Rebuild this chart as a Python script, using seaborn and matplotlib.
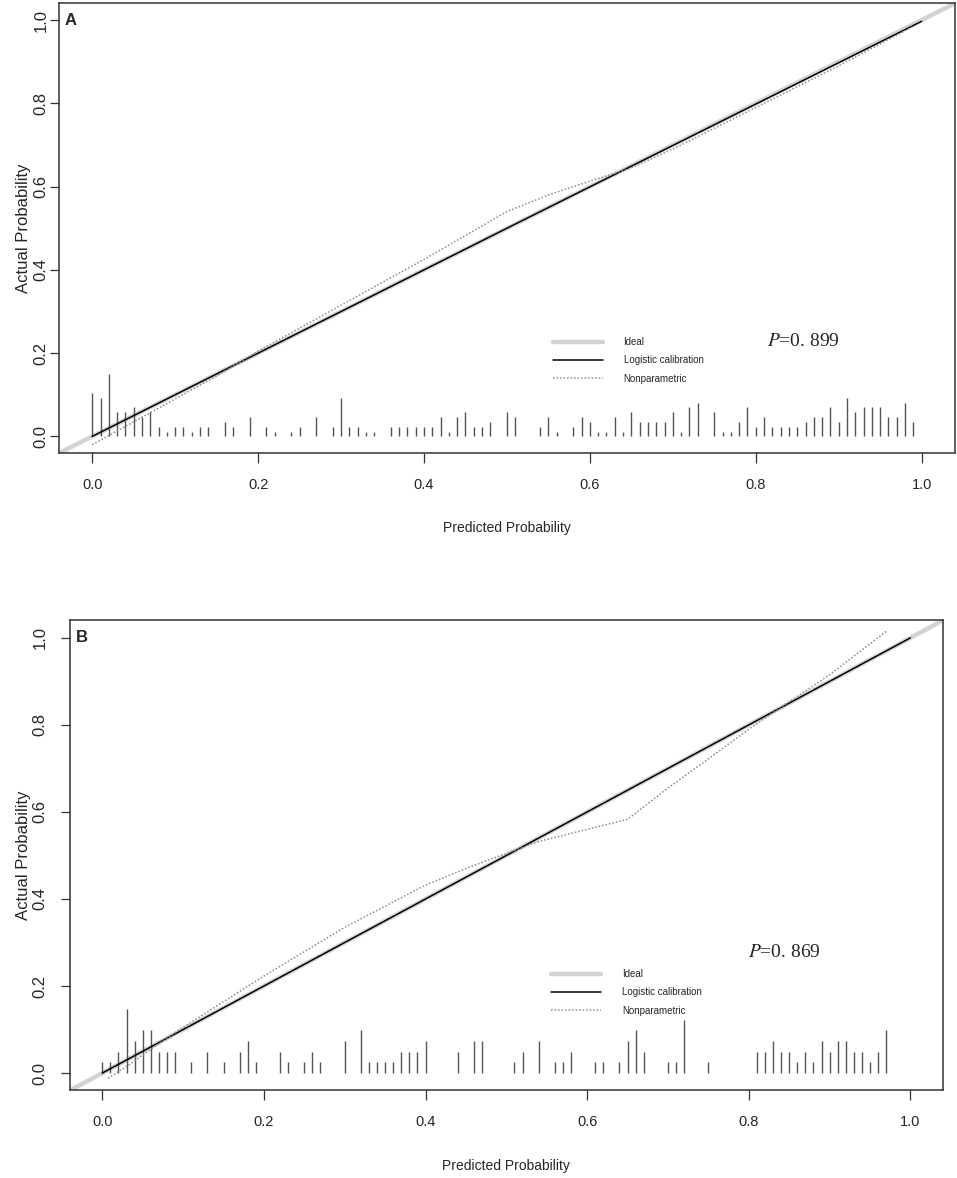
import matplotlib
matplotlib.use("Agg")
import matplotlib.pyplot as plt
import seaborn as sns

# ---- panel A data ----
a_bin_x = [0.00, 0.01, 0.02, 0.03, 0.04, 0.05, 0.06, 0.07, 0.08, 0.09, 0.10, 0.11,
           0.12, 0.13, 0.14, 0.16, 0.17, 0.19, 0.21, 0.22, 0.24, 0.25, 0.27, 0.29,
           0.30, 0.31, 0.32, 0.33, 0.34, 0.36, 0.37, 0.38, 0.39, 0.40, 0.41, 0.42,
           0.43, 0.44, 0.45, 0.46, 0.47, 0.48, 0.50, 0.51, 0.54, 0.55, 0.56, 0.58,
           0.59, 0.60, 0.61, 0.62, 0.63, 0.64, 0.65, 0.66, 0.67, 0.68, 0.69, 0.70,
           0.71, 0.72, 0.73, 0.75, 0.76, 0.77, 0.78, 0.79, 0.80, 0.81, 0.82, 0.83,
           0.84, 0.85, 0.86, 0.87, 0.88, 0.89, 0.90, 0.91, 0.92, 0.93, 0.94, 0.95,
           0.96, 0.97, 0.98, 0.99]
a_bin_n = [9, 8, 13, 5, 5, 6, 4, 5, 2, 1, 2, 2,
           1, 2, 2, 3, 2, 4, 2, 1, 1, 2, 4, 2,
           8, 2, 2, 1, 1, 2, 2, 2, 2, 2, 2, 4,
           1, 4, 5, 2, 2, 3, 5, 4, 2, 4, 1, 2,
           4, 3, 1, 1, 4, 1, 5, 3, 3, 3, 3, 5,
           1, 6, 7, 5, 1, 1, 3, 6, 2, 4, 2, 2,
           2, 2, 3, 4, 4, 6, 3, 8, 5, 6, 6, 6,
           4, 4, 7, 3]
a_bin_unit = 0.0116
a_logit_x = [0.0, 0.5, 1.0]
a_logit_y = [0.0, 0.5, 0.997]
a_np_x = [0.0, 0.05, 0.10, 0.15, 0.20, 0.30, 0.40, 0.50, 0.55, 0.60, 0.65, 0.70,
          0.80, 0.90, 0.99]
a_np_y = [-0.02, 0.035, 0.09, 0.145, 0.205, 0.315, 0.425, 0.54, 0.58, 0.613, 0.645,
          0.69, 0.79, 0.89, 0.985]
a_p_text = "=0. 899"

# ---- panel B data ----
b_bin_x = [0.00, 0.01, 0.02, 0.03, 0.04, 0.05, 0.06, 0.07, 0.08, 0.09, 0.11, 0.13,
           0.15, 0.17, 0.18, 0.19, 0.22, 0.23, 0.25, 0.26, 0.27, 0.30, 0.32, 0.33,
           0.34, 0.35, 0.36, 0.37, 0.38, 0.39, 0.40, 0.44, 0.46, 0.47, 0.51, 0.52,
           0.54, 0.56, 0.57, 0.58, 0.61, 0.62, 0.64, 0.65, 0.66, 0.67, 0.70, 0.71,
           0.72, 0.75, 0.81, 0.82, 0.83, 0.84, 0.85, 0.86, 0.87, 0.88, 0.89, 0.90,
           0.91, 0.92, 0.93, 0.94, 0.95, 0.96, 0.97]
b_bin_n = [1, 1, 2, 6, 3, 4, 4, 2, 2, 2, 1, 2,
           1, 2, 3, 1, 2, 1, 1, 2, 1, 3, 4, 1,
           1, 1, 1, 2, 2, 2, 3, 2, 3, 3, 1, 2,
           3, 1, 1, 2, 1, 1, 1, 3, 4, 2, 1, 1,
           5, 1, 2, 2, 3, 2, 2, 1, 2, 1, 3, 2,
           3, 3, 2, 2, 1, 2, 4]
b_bin_unit = 0.0245
b_logit_x = [0.0, 0.5, 1.0]
b_logit_y = [0.0, 0.5, 1.0]
b_np_x = [0.007, 0.03, 0.06, 0.10, 0.20, 0.30, 0.40, 0.45, 0.50, 0.54, 0.60, 0.65,
          0.70, 0.75, 0.80, 0.85, 0.90, 0.97]
b_np_y = [-0.012, 0.015, 0.055, 0.105, 0.223, 0.335, 0.432, 0.47, 0.505, 0.532, 0.56,
          0.583, 0.655, 0.722, 0.79, 0.853, 0.915, 1.015]
b_p_text = "=0. 869"

ticks = [0.0, 0.2, 0.4, 0.6, 0.8, 1.0]
tick_labels = ["0.0", "0.2", "0.4", "0.6", "0.8", "1.0"]
legend_labels = ["Ideal", "Logistic calibration", "Nonparametric"]

sns.set_theme(style="white")
plt.rcParams["font.family"] = ["Liberation Sans", "DejaVu Sans"]
plt.rcParams["mathtext.fontset"] = "stix"
EDGE = "#333333"


def calib_panel(ax, bin_x, bin_n, unit, logit_x, logit_y, np_x, np_y,
                letter, p_text, p_xy, ylab_pad, ytick_pad):
    heights = [n * unit for n in bin_n]
    ax.vlines(bin_x, 0, heights, color="#555555", lw=1.0)
    ideal = ax.axline((0, 0), (1, 1), color="#d3d3d3", lw=3.2, zorder=1)
    sns.lineplot(x=logit_x, y=logit_y, ax=ax, color="black", lw=1.1, zorder=3)
    sns.lineplot(x=np_x, y=np_y, ax=ax, color="#8c8c8c", lw=1.1,
                 linestyle=(0, (1, 1.3)), zorder=3)
    lines = ax.get_lines()
    handles = [ideal, lines[1], lines[2]]

    ax.set_xlim(-0.04, 1.04)
    ax.set_ylim(-0.04, 1.04)
    ax.set_xticks(ticks)
    ax.set_yticks(ticks)
    ax.set_xticklabels(tick_labels, fontsize=10.5)
    ax.set_yticklabels(tick_labels, fontsize=12, rotation=90, va="center")
    ax.tick_params(axis="x", length=7, width=0.9, color=EDGE, pad=11, bottom=True)
    ax.tick_params(axis="y", length=6.5, width=0.9, color=EDGE, pad=ytick_pad, left=True)
    for s in ax.spines.values():
        s.set_color(EDGE)
        s.set_linewidth(1.1)

    ax.set_xlabel("Predicted Probability", fontsize=10, labelpad=21)
    ax.set_ylabel("Actual Probability", fontsize=12, labelpad=ylab_pad)

    ax.legend(handles, legend_labels, loc="upper left", bbox_to_anchor=(0.551, 0.258),
              frameon=False, borderpad=0, borderaxespad=0, handlelength=5.2,
              handletextpad=2.1, labelspacing=0.85, prop={"size": 7})
    ax.text(p_xy[0], p_xy[1], "$P$" + p_text, fontfamily="Liberation Serif",
            fontsize=14, va="center", ha="left")
    ax.text(-0.033, 1.0, letter, fontsize=12, fontweight="bold", va="center", ha="left")


fig = plt.figure(figsize=(9.57, 11.78), dpi=100)
ax1 = fig.add_axes([0.0617, 0.6154, 0.936, 0.3817])
ax2 = fig.add_axes([0.0731, 0.0743, 0.912, 0.399])

calib_panel(ax1, a_bin_x, a_bin_n, a_bin_unit, a_logit_x, a_logit_y, a_np_x, a_np_y,
            "A", a_p_text, (0.814, 0.228), 2, 1)
calib_panel(ax2, b_bin_x, b_bin_n, b_bin_unit, b_logit_x, b_logit_y, b_np_x, b_np_y,
            "B", b_p_text, (0.799, 0.276), 1.5, 9.5)

fig.savefig("out.png", dpi=100)
